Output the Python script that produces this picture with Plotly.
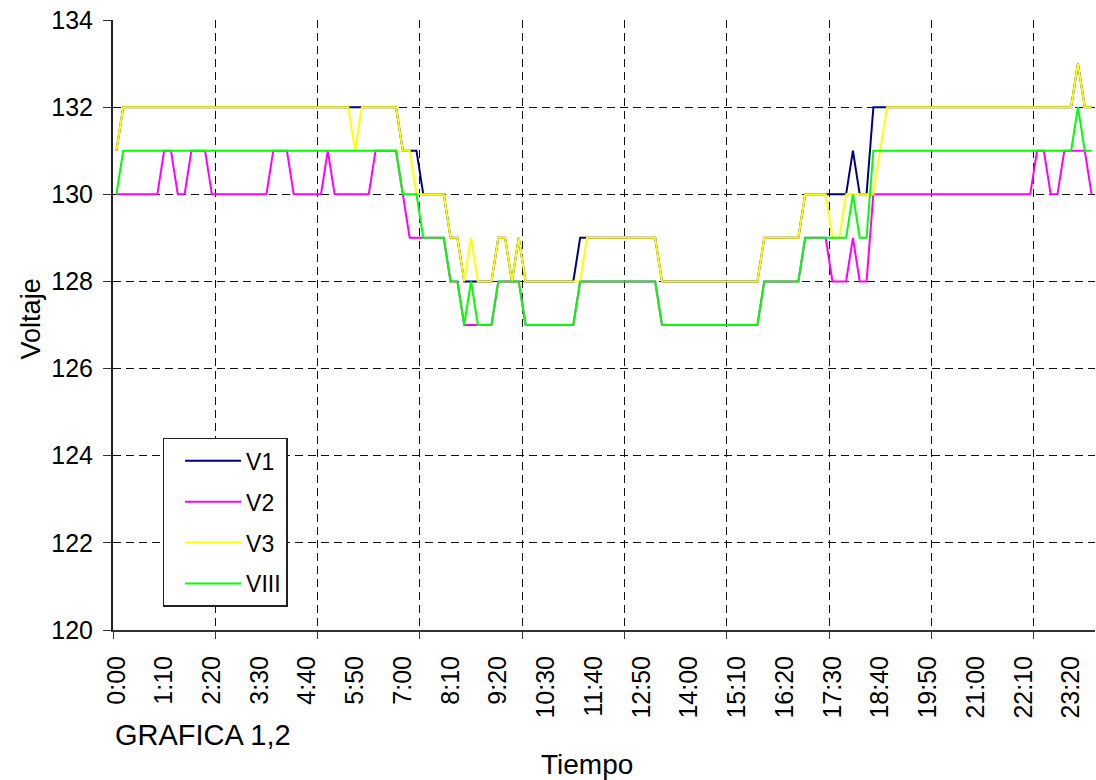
import plotly.graph_objects as go

# ---- data (one reading every 10 minutes, 0:00 .. 23:50) ----
TIMES = [f"{m // 60}:{m % 60:02d}" for m in range(0, 1440, 10)]

TICK_LABELS = ["0:00", "1:10", "2:20", "3:30", "4:40", "5:50", "7:00", "8:10",
               "9:20", "10:30", "11:40", "12:50", "14:00", "15:10", "16:20",
               "17:30", "18:40", "19:50", "21:00", "22:10", "23:20"]

V1 = [131,
      132, 132, 132, 132, 132, 132, 132, 132, 132, 132, 132, 132, 132, 132,
      132, 132, 132, 132, 132, 132, 132, 132, 132, 132, 132, 132, 132, 132,
      132, 132, 132, 132, 132, 132, 132, 132, 132, 132, 132, 132, 132,
      131, 131, 131,
      130, 130, 130, 130,
      129, 129,
      128, 128, 128, 128, 128,
      129, 129, 128, 129,
      128, 128, 128, 128, 128, 128, 128, 128,
      129, 129, 129, 129, 129, 129, 129, 129, 129, 129, 129, 129,
      128, 128, 128, 128, 128, 128, 128, 128, 128, 128, 128, 128, 128, 128, 128,
      129, 129, 129, 129, 129, 129,
      130, 130, 130, 130, 130, 130, 130,
      131, 130, 130,
      132, 132, 132, 132, 132, 132, 132, 132, 132, 132, 132, 132, 132, 132, 132,
      132, 132, 132, 132, 132, 132, 132, 132, 132, 132, 132, 132, 132, 132, 132,
      133, 132, 132]

V2 = [130, 130, 130, 130, 130, 130, 130,
      131, 131,
      130, 130,
      131, 131, 131,
      130, 130, 130, 130, 130, 130, 130, 130, 130,
      131, 131, 131,
      130, 130, 130, 130, 130,
      131,
      130, 130, 130, 130, 130, 130,
      131, 131, 131, 131,
      130,
      129, 129, 129, 129, 129, 129,
      128, 128,
      127, 127, 127, 127, 127,
      128, 128, 128, 128,
      127, 127, 127, 127, 127, 127, 127, 127,
      128, 128, 128, 128, 128, 128, 128, 128, 128, 128, 128, 128,
      127, 127, 127, 127, 127, 127, 127, 127, 127, 127, 127, 127, 127, 127, 127,
      128, 128, 128, 128, 128, 128,
      129, 129, 129, 129,
      128, 128, 128,
      129,
      128, 128,
      130, 130, 130, 130, 130, 130, 130, 130, 130, 130, 130, 130, 130, 130, 130,
      130, 130, 130, 130, 130, 130, 130, 130, 130,
      131, 131,
      130, 130,
      131, 131, 131, 131,
      130]

V3 = [131,
      132, 132, 132, 132, 132, 132, 132, 132, 132, 132, 132, 132, 132, 132,
      132, 132, 132, 132, 132, 132, 132, 132, 132, 132, 132, 132, 132, 132,
      132, 132, 132, 132, 132, 132,
      131,
      132, 132, 132, 132, 132, 132,
      131, 131,
      130, 130, 130, 130, 130,
      129, 129,
      128, 129, 128, 128, 128,
      129, 129, 128, 129,
      128, 128, 128, 128, 128, 128, 128, 128, 128,
      129, 129, 129, 129, 129, 129, 129, 129, 129, 129, 129,
      128, 128, 128, 128, 128, 128, 128, 128, 128, 128, 128, 128, 128, 128, 128,
      129, 129, 129, 129, 129, 129,
      130, 130, 130, 130,
      129, 129,
      130, 130, 130, 130, 130,
      131,
      132, 132, 132, 132, 132, 132, 132, 132, 132, 132, 132, 132, 132, 132,
      132, 132, 132, 132, 132, 132, 132, 132, 132, 132, 132, 132, 132, 132,
      133, 132, 132]

VIII = [130,
        131, 131, 131, 131, 131, 131, 131, 131, 131, 131, 131, 131, 131, 131,
        131, 131, 131, 131, 131, 131, 131, 131, 131, 131, 131, 131, 131, 131,
        131, 131, 131, 131, 131, 131, 131, 131, 131, 131, 131, 131, 131,
        130, 130, 130,
        129, 129, 129, 129,
        128, 128,
        127, 128, 127, 127, 127,
        128, 128, 128, 128,
        127, 127, 127, 127, 127, 127, 127, 127,
        128, 128, 128, 128, 128, 128, 128, 128, 128, 128, 128, 128,
        127, 127, 127, 127, 127, 127, 127, 127, 127, 127, 127, 127, 127, 127, 127,
        128, 128, 128, 128, 128, 128,
        129, 129, 129, 129, 129, 129, 129,
        130,
        129, 129,
        131, 131, 131, 131, 131, 131, 131, 131, 131, 131, 131, 131, 131, 131, 131,
        131, 131, 131, 131, 131, 131, 131, 131, 131, 131, 131, 131, 131, 131, 131,
        132, 131, 131]

SERIES = [("V1", V1, "#000080"), ("V2", V2, "#FF00FF"),
          ("V3", V3, "#FFFF00"), ("VIII", VIII, "#00FF00")]

FONT = "Liberation Sans, Arial, sans-serif"

# category positions on a linear axis (category i sits at i)
POS = {t: i for i, t in enumerate(TIMES)}
X = [POS[t] for t in TIMES]
n = len(TIMES)

fig = go.Figure()
for name, vals, color in SERIES:
    fig.add_trace(go.Scatter(x=X, y=vals, mode="lines", name=name,
                             legendgroup=name, customdata=TIMES,
                             hovertemplate="%{customdata}: %{y}",
                             line=dict(color=color, width=2)))

fig.update_layout(
    width=1096, height=780,
    margin=dict(l=113, r=1, t=20, b=150, autoexpand=False),
    paper_bgcolor="white", plot_bgcolor="white",
    font=dict(family=FONT, color="black"),
    showlegend=True,
    legend=dict(x=0.0505, y=0.315, xanchor="left", yanchor="top",
                bgcolor="white", bordercolor="#222", borderwidth=1.5,
                font=dict(size=23, family=FONT), tracegroupgap=8,
                itemwidth=56, indentation=16),
    xaxis=dict(type="linear", range=[-0.5, n - 0.5], automargin=False,
               tickvals=[POS[t] for t in TICK_LABELS], ticktext=TICK_LABELS,
               tickangle=-90, tickfont=dict(size=25),
               showgrid=False, ticks="", ticklabelstandoff=14,
               zeroline=False,
               showline=True, linecolor="#333", linewidth=2,
               minor=dict(tick0=-0.5, dtick=15, showgrid=True,
                          gridcolor="#111", gridwidth=1,
                          griddash="8px,5px", ticks="outside", ticklen=7,
                          tickcolor="#333")),
    yaxis=dict(range=[120, 134], dtick=2, tick0=120, automargin=False,
               tickfont=dict(size=25),
               showgrid=True, gridcolor="#111", gridwidth=1,
               griddash="8px,5px", zeroline=False,
               ticks="outside", ticklen=8, tickcolor="#333",
               ticklabelstandoff=5,
               showline=True, linecolor="#222", linewidth=2),
    annotations=[
        dict(text="Voltaje", xref="paper", yref="paper", x=-0.084, y=0.51,
             xanchor="center", yanchor="middle", textangle=-90,
             showarrow=False, font=dict(size=27, family=FONT)),
        dict(text="Tiempo", xref="paper", yref="paper", x=0.4827, y=-0.2213,
             xanchor="center", yanchor="middle", showarrow=False,
             font=dict(size=28, family=FONT)),
        dict(text="GRAFICA 1,2", xref="paper", yref="paper", x=0.0, y=-0.172,
             xanchor="left", yanchor="middle", showarrow=False,
             font=dict(size=29, family=FONT)),
    ],
)

# remove the default page margin so the figure sits at the window's corner
fig.write_html("out.html",
               config={"displayModeBar": False},
               post_script="document.body.style.margin='0';")
